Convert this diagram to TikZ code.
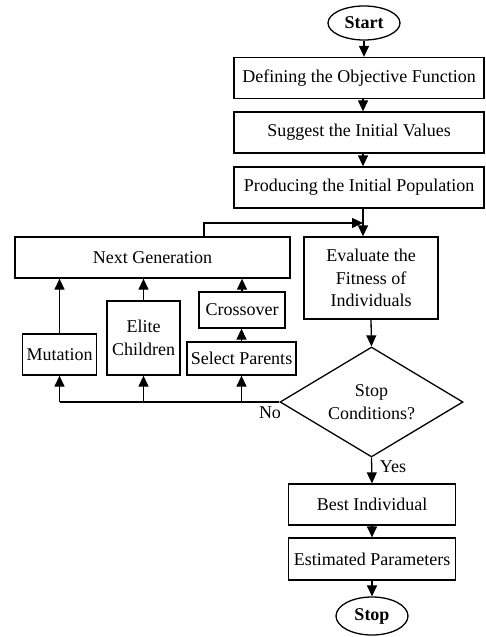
\documentclass[tikz,border=0pt]{standalone}
\usepackage{fontspec}
\setmainfont{Liberation Serif}
\usetikzlibrary{shapes.geometric,arrows.meta}
\begin{document}
\begin{tikzpicture}[x=1pt,y=-1pt,
  every node/.style={font=\fontsize{18}{22.5}\selectfont, inner sep=0pt, align=center},
  box/.style={draw, line width=1.3pt, rectangle},
  oval/.style={draw, line width=1.3pt, ellipse, font=\fontsize{18}{22.5}\selectfont\bfseries},
  decision/.style={draw, line width=1.3pt, diamond, aspect=1.66},
  arr/.style={-{Triangle[length=11pt,width=10pt]}, line width=1.3pt},
  plain/.style={line width=1.3pt}]
\path[use as bounding box] (0,0) rectangle (486,637);
% main column
\node[oval, minimum width=72pt, minimum height=34pt] (start) at (364,23) {Start};
\node[box, minimum width=250pt, minimum height=41pt] (def) at (359,78) {Defining the Objective Function};
\node[box, minimum width=250pt, minimum height=41pt] (sug) at (359,132.5) {Suggest the Initial Values};
\node[box, minimum width=250pt, minimum height=41pt] (prod) at (359,187.5) {Producing the Initial Population};
\node[box, minimum width=134pt, minimum height=82pt] (eval) at (371,278) {Evaluate the\\Fitness of\\Individuals};
\node[decision, minimum width=183pt, minimum height=110pt] (dia) at (371.5,402) {Stop\\Conditions?};
\node[box, minimum width=167pt, minimum height=41pt] (best) at (372,504.5) {Best Individual};
\node[box, minimum width=167pt, minimum height=42pt] (est) at (372,559) {Estimated Parameters};
\node[oval, minimum width=72pt, minimum height=38pt] (stop) at (372,616) {Stop};
% left loop
\node[box, minimum width=275pt, minimum height=41pt] (next) at (152.5,257.5) {Next Generation};
\node[box, minimum width=74pt, minimum height=41pt] (mut) at (59.5,354.5) {Mutation};
\node[box, minimum width=73pt, minimum height=74pt] (elite) at (143.5,338) {Elite\\Children};
\node[box, minimum width=86pt, minimum height=36pt] (cross) at (242,310) {Crossover};
\node[box, minimum width=109pt, minimum height=33pt] (sel) at (241.5,358.5) {Select Parents};
% labels
\node (no) at (270,413) {No};
\node (yes) at (393,467) {Yes};
% connectors
\coordinate (colA) at (363,0);
\coordinate (loop) at (204,223);
\draw[arr] (start.south) -- (start.south |- def.north);
\draw[arr] (def.south -| colA) -- (sug.north -| colA);
\draw[arr] (sug.south -| colA) -- (prod.north -| colA);
\draw[arr] (prod.south -| colA) -- (eval.north -| colA);
\draw[arr] (next.north -| loop) -- (loop) -- (loop -| colA);
\draw[arr] (eval.south) -- (dia.north);
\draw[plain] (dia.west) -- (dia.west -| mut);
\draw[arr] (dia.west -| mut) -- (mut.south);
\draw[arr] (dia.west -| elite) -- (elite.south);
\draw[arr] (dia.west -| sel) -- (sel.south);
\draw[arr] (mut.north) -- (mut.north |- next.south);
\draw[arr] (elite.north) -- (elite.north |- next.south);
\draw[arr] (sel.north) -- (sel.north |- cross.south);
\draw[arr] (cross.north) -- (cross.north |- next.south);
\draw[arr] (dia.south) -- (best.north);
\draw[arr] (best.south) -- (est.north);
\draw[arr] (est.south) -- (stop.north);
\end{tikzpicture}
\end{document}
